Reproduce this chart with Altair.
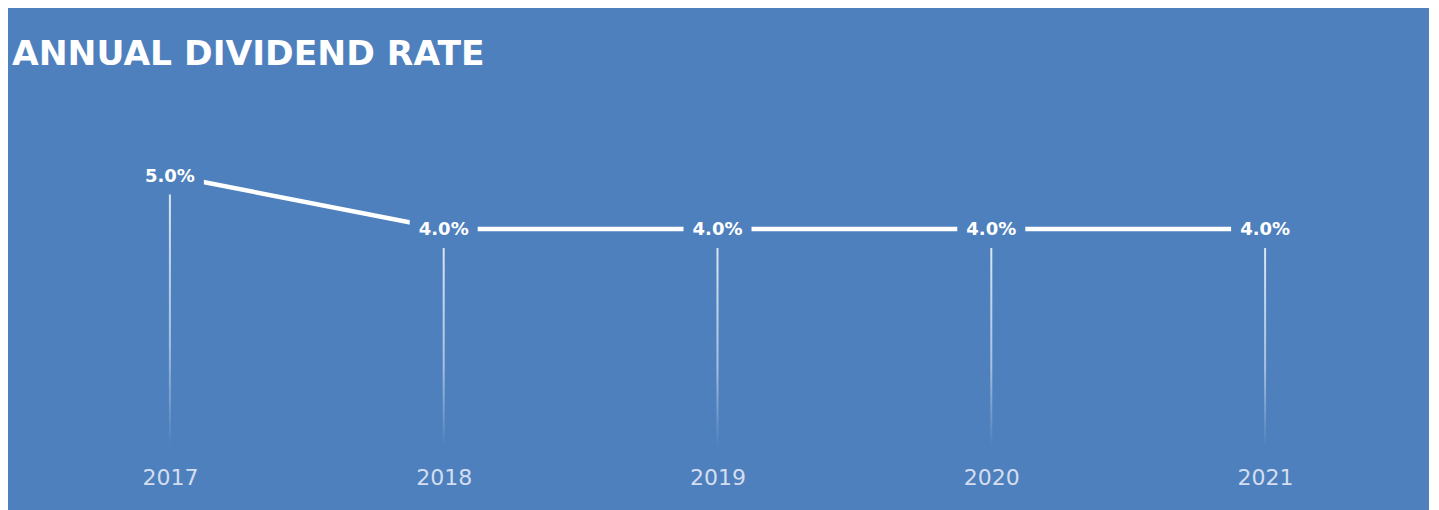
import altair as alt
import pandas as pd

years = ["2017", "2018", "2019", "2020", "2021"]
rates = [0.05, 0.04, 0.04, 0.04, 0.04]
title_text = "ANNUAL DIVIDEND RATE"

BG = "#4e80bd"
df = pd.DataFrame({"year": years, "rate": rates})

x = alt.X("year:O", scale=alt.Scale(type="point", padding=0.5),
          axis=alt.Axis(title=None, labelAngle=0, ticks=False, domain=False, grid=False,
                        labelColor="#d3def0", labelFont="DejaVu Sans", labelFontSize=22,
                        labelPadding=24))
y = alt.Y("rate:Q", scale=alt.Scale(domain=[0, 0.06]), axis=None)

base = alt.Chart(df)

grad = alt.Gradient(
    gradient="linear", x1=0, x2=0, y1=0, y2=1,
    stops=[alt.GradientStop(color="rgba(255,255,255,0.8)", offset=0),
           alt.GradientStop(color="rgba(255,255,255,0.5)", offset=0.6),
           alt.GradientStop(color="rgba(255,255,255,0)", offset=1)],
)

drops = base.mark_bar(width=2, fill=grad, yOffset=19, y2Offset=4).encode(
    x=x, y=y, y2=alt.datum(0)
)

line = base.mark_line(color="white", strokeWidth=4.5).encode(x=x, y=y)

label_bg = base.mark_point(
    shape="M-1,-0.35L1,-0.35L1,0.35L-1,0.35Z", size=4624, filled=True,
    fill=BG, opacity=1, strokeWidth=0
).encode(x=x, y=y)

labels = base.mark_text(color="white", font="DejaVu Sans", fontWeight="bold",
                        fontSize=18, baseline="middle", dy=1).encode(
    x=x, y=y, text=alt.Text("rate:Q", format=".1%")
)

chart = alt.layer(drops, line, label_bg, labels).properties(
    width=1369, height=321,
    padding={"left": 25, "right": 27, "top": 114, "bottom": 67},
    autosize=alt.AutoSizeParams(type="none"),
    background=BG,
    title=alt.TitleParams(title_text, anchor="start", frame="group", color="white",
                          font="DejaVu Sans", fontWeight="bold", fontSize=34.5,
                          dx=-21, offset=23, baseline="alphabetic"),
).configure_view(stroke=None)

chart.save("out.html", embed_options={"renderer": "svg", "actions": False})
